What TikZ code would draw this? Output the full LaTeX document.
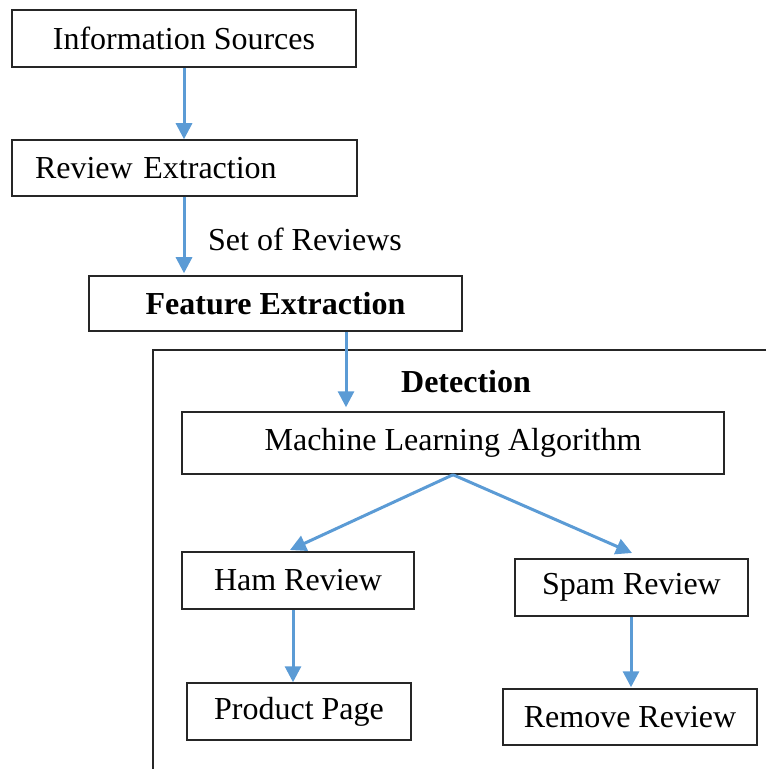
\documentclass[tikz,border=0pt]{standalone}
\usepackage{fontspec}
\setmainfont{Liberation Serif}
\usetikzlibrary{arrows.meta}
\definecolor{arrowblue}{HTML}{5B9BD5}
\definecolor{boxline}{HTML}{262626}
\begin{document}
\begin{tikzpicture}[x=0.5pt,y=-0.5pt,
  box/.style={draw=boxline,line width=0.75pt,inner sep=0pt,font=\fontsize{16}{19}\selectfont},
  flow/.style={draw=arrowblue,line width=1.5pt,-{Triangle[length=8pt,width=8pt]}},
  lbl/.style={inner sep=0pt,font=\fontsize{16}{19}\selectfont}]
\useasboundingbox (0,0) rectangle (766,769);
\node[box,minimum width=172pt,minimum height=28.5pt] (is) at (184,38.5) {Information Sources};
\node[box,minimum height=28pt,text width=149.5pt,inner xsep=11.5pt,align=left] (re) at (184.5,168) {Review Extraction};
\node[box,minimum width=186.5pt,minimum height=27.5pt,font=\fontsize{16}{19}\selectfont\bfseries] (fe) at (275.5,303.5) {Feature Extraction};
\draw[boxline,line width=0.6pt] (766,350) -- (153,350) -- (153,769);
\node[lbl,font=\fontsize{16}{19}\selectfont\bfseries] (det) at (466,382) {Detection};
\node[box,minimum width=271pt,minimum height=31pt] (mla) at (453,443) {Machine Learning Algorithm};
\node[box,minimum width=116pt,minimum height=28.5pt] (ham) at (298,580.5) {Ham Review};
\node[box,minimum width=116.5pt,minimum height=28.5pt] (spam) at (631.5,587.5) {Spam Review};
\node[box,minimum width=112pt,minimum height=28.5pt] (pp) at (299,711.5) {Product Page};
\node[box,minimum width=127pt,minimum height=28pt] (rr) at (630,717) {Remove Review};
\node[lbl] (set) at (305,239) {Set of Reviews};
\coordinate (a3) at (346,331);
\coordinate (hamend) at (290,550);
\coordinate (spamend) at (632,553);
\coordinate (a6) at (293,609);
\coordinate (a7) at (631,616);
\draw[flow] (is.south) -- (re.north -| is.south);
\draw[flow] (re.south -| is.south) -- ([yshift=1pt]fe.north -| is.south);
\draw[flow] (fe.south -| a3) -- ([yshift=2pt]mla.north -| a3);
\draw[flow] (mla.south) -- (hamend);
\draw[flow] (mla.south) -- (spamend);
\draw[flow] (ham.south -| a6) -- (pp.north -| a6);
\draw[flow] (spam.south -| a7) -- ([yshift=0.5pt]rr.north -| a7);
\end{tikzpicture}
\end{document}
